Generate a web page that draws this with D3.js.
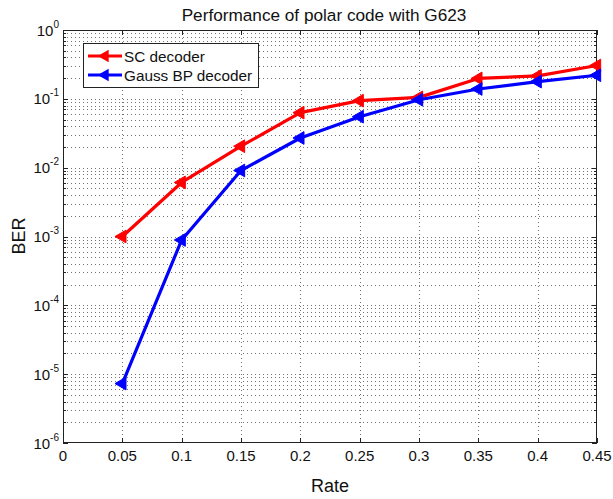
<!DOCTYPE html>
<html><head><meta charset="utf-8">
<script src="https://cdn.jsdelivr.net/npm/d3@7/dist/d3.min.js"></script>
<style>body{margin:0;background:#fff}svg{display:block}text{font-family:"Liberation Sans",Arial,sans-serif}</style>
</head><body>
<script>
const rates = [0.05, 0.1, 0.15, 0.2, 0.25, 0.3, 0.35, 0.4, 0.45];
const scBER = [1.0e-3, 6.1e-3, 0.0205, 0.063, 0.094, 0.105, 0.198, 0.215, 0.305];
const bpBER = [7.3e-6, 8.9e-4, 0.0091, 0.027, 0.055, 0.097, 0.139, 0.178, 0.22];
const seriesNames = ["SC decoder", "Gauss BP decoder"];
const seriesColors = ["#ff0000", "#0000ff"];
const xTicks = [0, 0.05, 0.1, 0.15, 0.2, 0.25, 0.3, 0.35, 0.4, 0.45];
const xTickLabels = ["0", "0.05", "0.1", "0.15", "0.2", "0.25", "0.3", "0.35", "0.4", "0.45"];
const yExponents = [0, -1, -2, -3, -4, -5, -6];
const title = "Performance of polar code with G623";
const xLabel = "Rate", yLabel = "BER";

const W = 613, H = 499;
const L = 63, R = 597, T = 30, B = 443;
const svg = d3.select("body").append("svg").attr("width", W).attr("height", H);
const x = d3.scaleLinear().domain([0, 0.45]).range([L, R]);
const y = d3.scaleLog().domain([1e-6, 1]).range([B, T]);

// grid
const grid = svg.append("g").attr("stroke", "#444").attr("stroke-width", 1)
  .attr("stroke-dasharray", "1,3").attr("opacity", 0.75);
xTicks.slice(1, -1).forEach(v => {
  grid.append("line").attr("x1", Math.round(x(v)) + 0.5).attr("x2", Math.round(x(v)) + 0.5)
    .attr("y1", T).attr("y2", B);
});
const yMinor = [];
for (let e = -6; e < 0; e++) for (let m = 1; m <= 9; m++) yMinor.push(m * Math.pow(10, e));
yMinor.forEach(v => {
  if (v <= 1e-6 * 1.0001) return;
  grid.append("line").attr("x1", L).attr("x2", R)
    .attr("y1", Math.round(y(v)) + 0.5).attr("y2", Math.round(y(v)) + 0.5);
});

// ticks
const tk = svg.append("g").attr("stroke", "#222").attr("stroke-width", 1);
xTicks.forEach(v => {
  const px = Math.round(x(v)) + 0.5;
  tk.append("line").attr("x1", px).attr("x2", px).attr("y1", B).attr("y2", B - 5);
  tk.append("line").attr("x1", px).attr("x2", px).attr("y1", T).attr("y2", T + 5);
});
yMinor.concat([1]).forEach(v => {
  const py = Math.round(y(v)) + 0.5;
  const major = Math.abs(Math.log10(v) - Math.round(Math.log10(v))) < 1e-6;
  const len = major ? 5 : 3;
  tk.append("line").attr("x1", L).attr("x2", L + len).attr("y1", py).attr("y2", py);
  tk.append("line").attr("x1", R).attr("x2", R - len).attr("y1", py).attr("y2", py);
});

// frame
svg.append("rect").attr("x", L + 0.5).attr("y", T + 0.5).attr("width", R - L - 1).attr("height", B - T - 1)
  .attr("fill", "none").attr("stroke", "#222").attr("stroke-width", 1);

// x tick labels
svg.append("g").selectAll("text").data(xTicks).join("text")
  .attr("x", d => x(d)).attr("y", B + 18).attr("text-anchor", "middle")
  .attr("font-size", 15).attr("fill", "#111").text((d, i) => xTickLabels[i]);

// y tick labels
yExponents.forEach(e => {
  const t = svg.append("text").attr("x", 59).attr("y", y(Math.pow(10, e)) + 5.5)
    .attr("text-anchor", "end").attr("font-size", 15).attr("fill", "#111");
  t.append("tspan").text("10");
  t.append("tspan").attr("dy", -8).attr("font-size", 10).text(String(e));
});

// lines
const line = d3.line().x((d, i) => x(rates[i])).y(d => y(d));
const tri = d3.symbol().type(d3.symbolTriangle).size(70);
[scBER, bpBER].forEach((s, k) => {
  svg.append("path").datum(s).attr("d", line).attr("fill", "none")
    .attr("stroke", seriesColors[k]).attr("stroke-width", 3.2).attr("stroke-linejoin", "round");
  svg.append("g").selectAll("path").data(s).join("path")
    .attr("d", tri).attr("fill", seriesColors[k]).attr("stroke", seriesColors[k]).attr("stroke-width", 1)
    .attr("transform", (d, i) => `translate(${x(rates[i])},${y(d)}) rotate(-90)`);
});

// legend
const lg = svg.append("g");
lg.append("rect").attr("x", 83.5).attr("y", 43.5).attr("width", 175).attr("height", 44)
  .attr("fill", "#fff").attr("stroke", "#222").attr("stroke-width", 1);
seriesNames.forEach((n, k) => {
  const yy = 56 + k * 19;
  lg.append("line").attr("x1", 88).attr("x2", 122).attr("y1", yy).attr("y2", yy)
    .attr("stroke", seriesColors[k]).attr("stroke-width", 3.2);
  lg.append("path").attr("d", tri).attr("fill", seriesColors[k])
    .attr("transform", `translate(105,${yy}) rotate(-90)`);
  lg.append("text").attr("x", 124).attr("y", yy + 5.5).attr("font-size", 15.3).attr("fill", "#111").text(n);
});

// titles
svg.append("text").attr("x", 324).attr("y", 21).attr("text-anchor", "middle")
  .attr("font-size", 17.2).attr("fill", "#111").text(title);
svg.append("text").attr("x", 330).attr("y", 492).attr("text-anchor", "middle")
  .attr("font-size", 18).attr("fill", "#111").text(xLabel);
svg.append("text").attr("transform", "translate(25,236) rotate(-90)").attr("text-anchor", "middle")
  .attr("font-size", 18).attr("fill", "#111").text(yLabel);
</script>
</body></html>
